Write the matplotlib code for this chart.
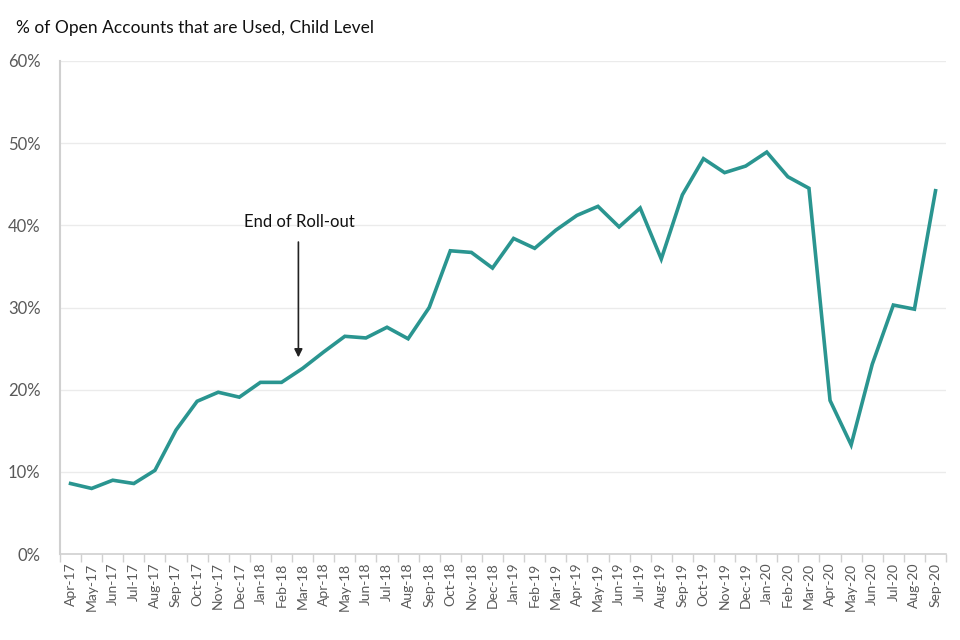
import matplotlib
matplotlib.use("Agg")
import matplotlib.pyplot as plt
from matplotlib.ticker import FuncFormatter

months = ["Apr-17", "May-17", "Jun-17", "Jul-17", "Aug-17", "Sep-17", "Oct-17", "Nov-17",
          "Dec-17", "Jan-18", "Feb-18", "Mar-18", "Apr-18", "May-18", "Jun-18", "Jul-18",
          "Aug-18", "Sep-18", "Oct-18", "Nov-18", "Dec-18", "Jan-19", "Feb-19", "Mar-19",
          "Apr-19", "May-19", "Jun-19", "Jul-19", "Aug-19", "Sep-19", "Oct-19", "Nov-19",
          "Dec-19", "Jan-20", "Feb-20", "Mar-20", "Apr-20", "May-20", "Jun-20", "Jul-20",
          "Aug-20", "Sep-20"]
pct_used = [8.6, 8.0, 9.0, 8.6, 10.2, 15.1, 18.6, 19.7,
            19.1, 20.9, 20.9, 22.6, 24.6, 26.5, 26.3, 27.6,
            26.2, 30.0, 36.9, 36.7, 34.8, 38.4, 37.2, 39.4,
            41.2, 42.3, 39.8, 42.1, 35.9, 43.7, 48.1, 46.4,
            47.2, 48.9, 45.9, 44.5, 18.7, 13.3, 23.1, 30.3,
            29.8, 44.2]

plt.rcParams["font.family"] = ["Lato", "DejaVu Sans"]

fig = plt.figure(figsize=(9.6, 6.4), dpi=100)
ax = fig.add_axes([0.0625, 0.134, 0.923, 0.771])

x = list(range(len(months)))
ax.plot(x, pct_used, color="#2A9590", linewidth=2.6, solid_joinstyle="miter")

ax.set_xlim(-0.5, len(months) - 0.5)
ax.set_ylim(0, 60)
ax.set_yticks([0, 10, 20, 30, 40, 50, 60])
ax.yaxis.set_major_formatter(FuncFormatter(lambda v, p: "%d%%" % v))
ax.grid(axis="y", color="#EBEBEB", linewidth=1)
ax.set_axisbelow(True)

ax.set_xticks(x)
ax.set_xticklabels(months, rotation=90)
ax.set_xticks([i - 0.5 for i in range(len(months) + 1)], minor=True)
ax.tick_params(axis="x", which="major", length=0, pad=6, labelsize=10, labelcolor="#595959")
ax.tick_params(axis="x", which="minor", length=6, color="#D0D0D0", width=1)
ax.tick_params(axis="y", length=0, pad=14, labelsize=12, labelcolor="#595959")

for s in ["top", "right"]:
    ax.spines[s].set_visible(False)
ax.spines["left"].set_color("#D0D0D0")
ax.spines["left"].set_linewidth(1.5)
ax.spines["bottom"].set_color("#D0D0D0")
ax.spines["bottom"].set_linewidth(1.2)

ax.annotate("", xy=(10.8, 23.6), xytext=(10.8, 38.3),
            arrowprops=dict(arrowstyle="-|>", color="#222222", lw=1.2, mutation_scale=12))
ax.text(10.85, 40.4, "End of Roll-out", ha="center", va="center", fontsize=12, color="#111111")

fig.text(0.017, 0.957, "% of Open Accounts that are Used, Child Level", ha="left", va="center",
         fontsize=12.5, color="#111111")

fig.savefig("out.png", dpi=100)
